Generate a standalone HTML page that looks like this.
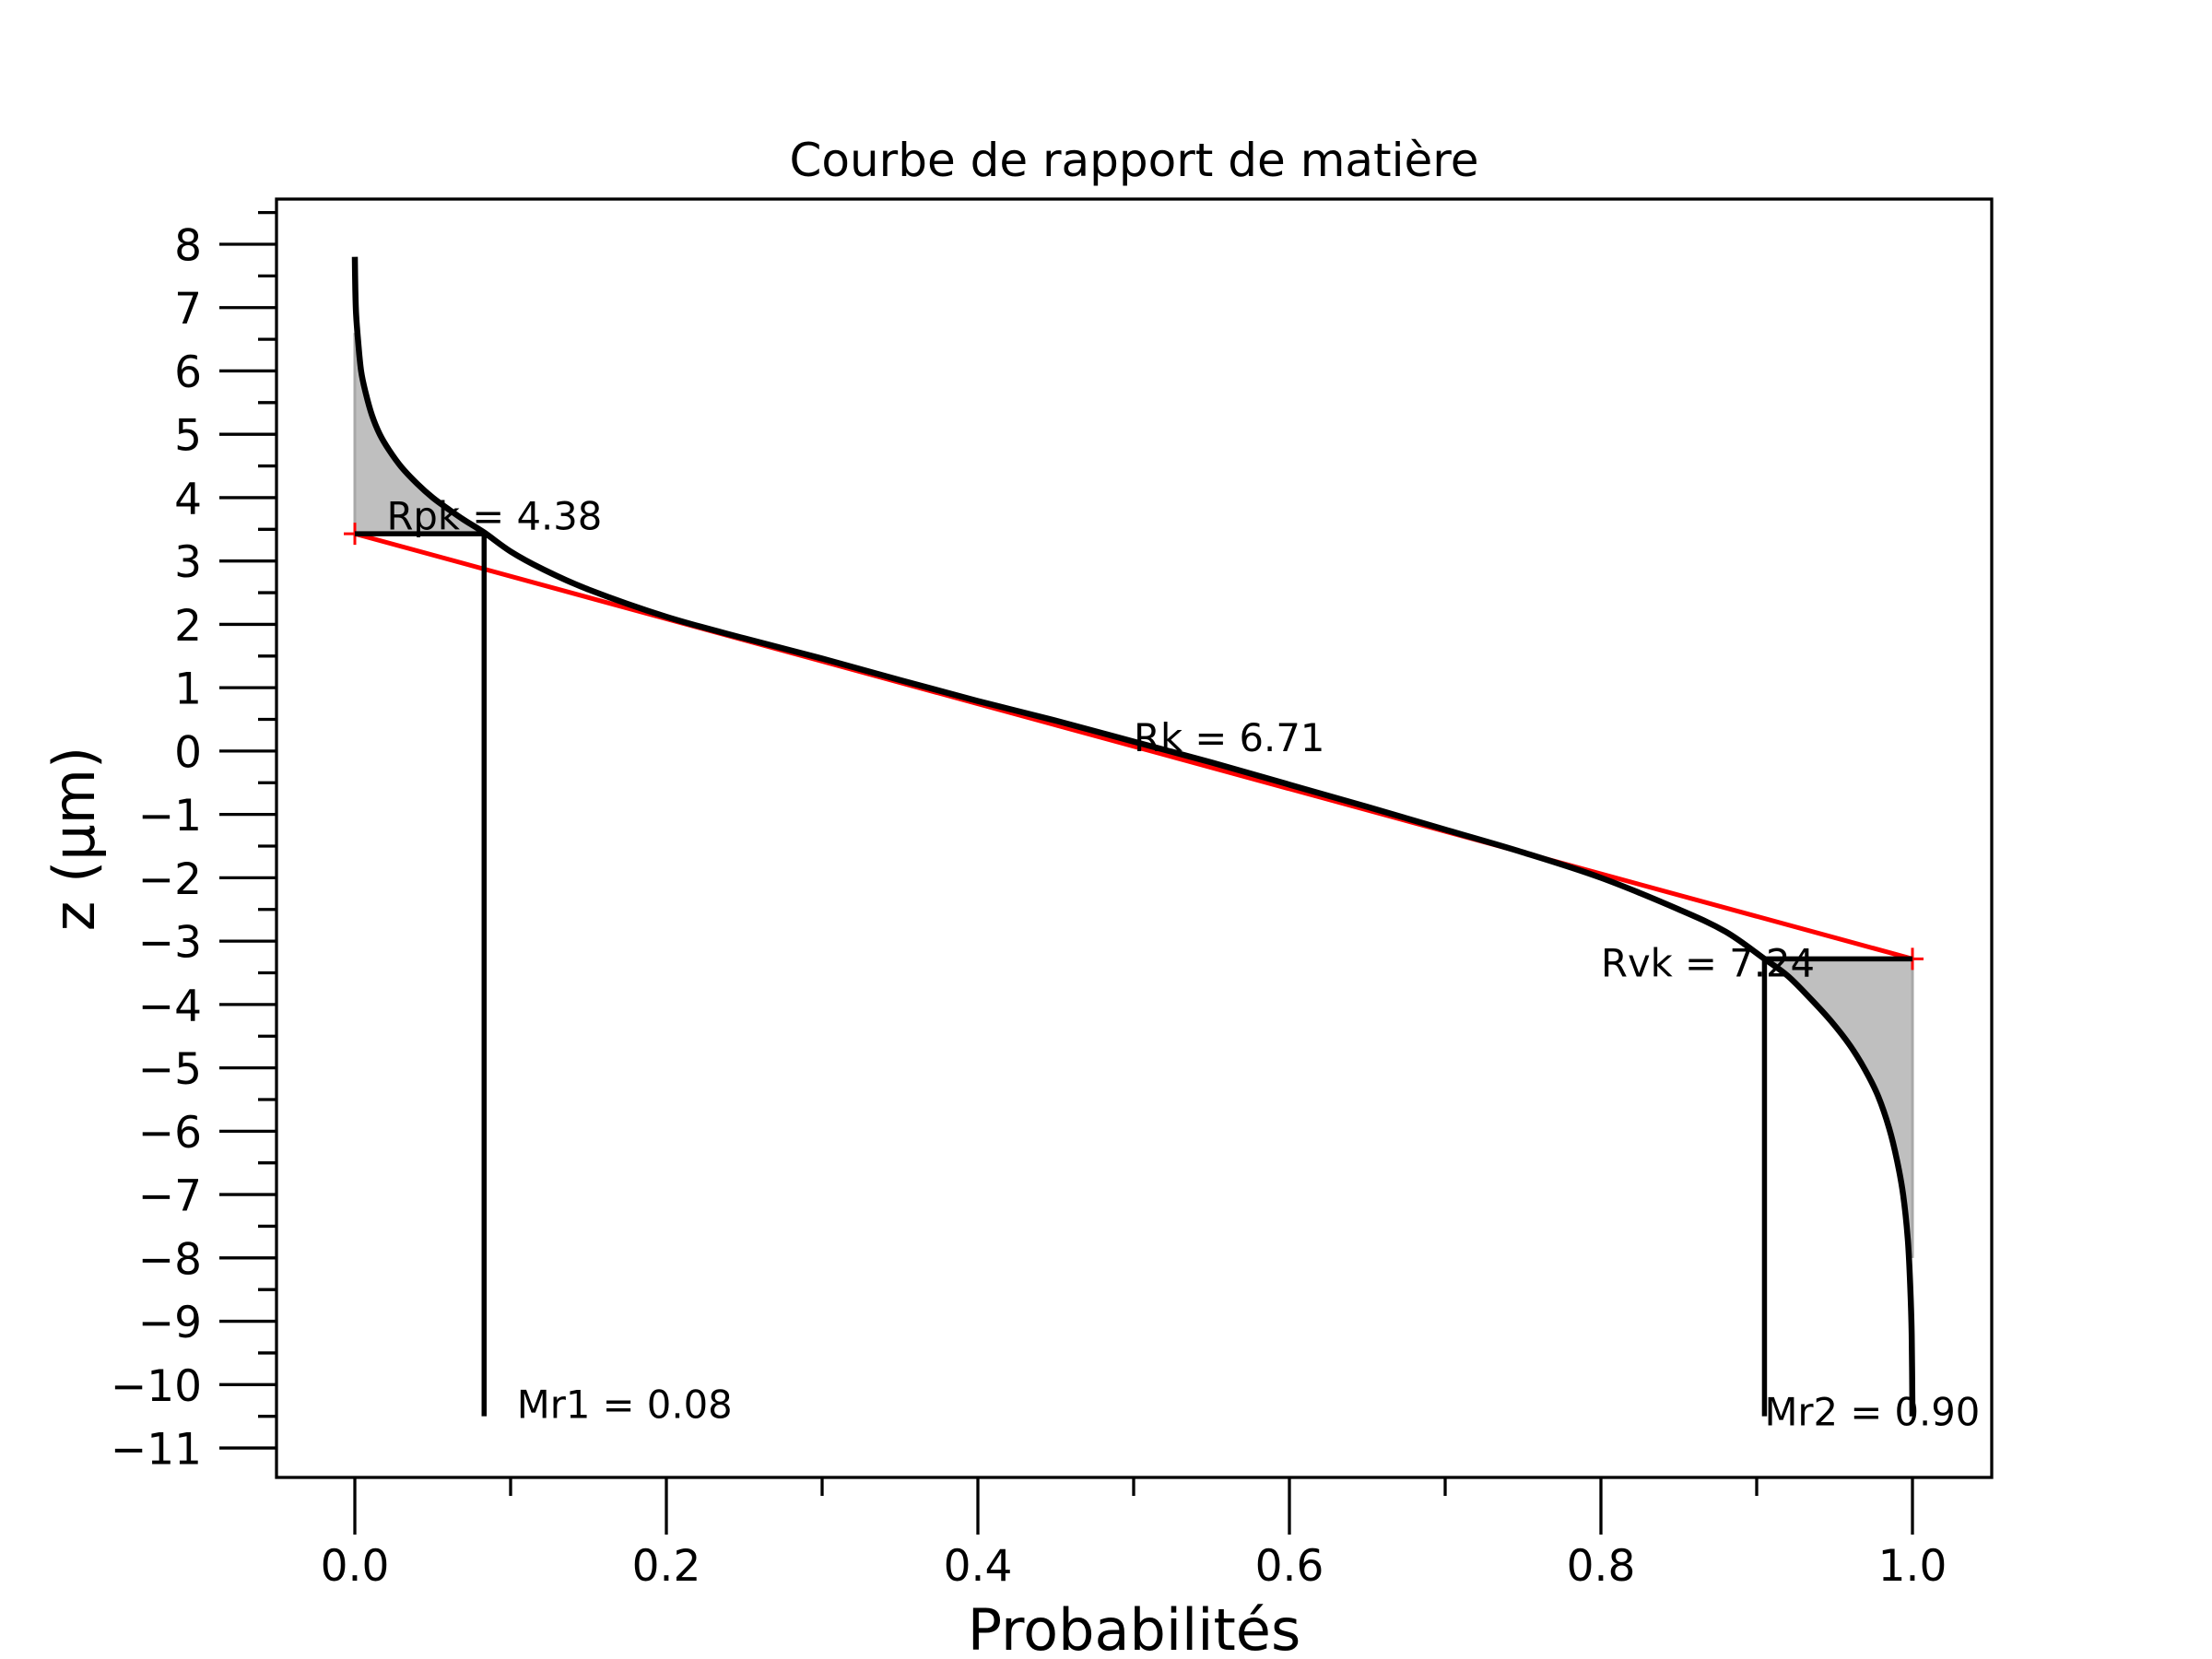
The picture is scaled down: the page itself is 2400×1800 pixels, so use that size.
<!DOCTYPE html>
<html><head><meta charset="utf-8"><style>
html,body{margin:0;padding:0;background:#fff}
svg{display:block;font-family:"DejaVu Sans","Liberation Sans",sans-serif}
</style></head><body>
<svg id="chart" width="2400" height="1800" viewBox="0 0 2400 1800" xmlns="http://www.w3.org/2000/svg">
<rect width="2400" height="1800" fill="#fff"/>
<g id="plot"></g>
</svg>
<script>
const curveP = [0,0.0003,0.0008,0.002,0.004,0.007,0.011,0.016,0.022,0.03,0.04,0.05,0.06,0.07,0.083,0.1,0.12,0.15,0.2,0.25,0.3,0.35,0.4,0.45,0.5,0.55,0.6,0.65,0.7,0.75,0.8,0.85,0.88,0.905,0.92,0.935,0.948,0.96,0.97,0.978,0.985,0.99,0.994,0.997,0.9985,0.9995,1.0];
const curveZ = [7.8,7.3,6.9,6.5,6.0,5.65,5.3,5.0,4.75,4.48,4.22,4.0,3.82,3.65,3.45,3.15,2.88,2.55,2.12,1.78,1.46,1.12,0.79,0.48,0.15,-0.18,-0.53,-0.88,-1.24,-1.6,-2.0,-2.5,-2.85,-3.28,-3.55,-3.92,-4.27,-4.65,-5.05,-5.45,-5.95,-6.45,-7.0,-7.7,-8.4,-9.2,-10.5];
const rkLine = [3.43,-3.28];
const mr = [0.083,0.905];
const yTicks = [8,7,6,5,4,3,2,1,0,-1,-2,-3,-4,-5,-6,-7,-8,-9,-10,-11];
const xTicks = [0,0.2,0.4,0.6,0.8,1.0];
const xTickLabels = ["0.0","0.2","0.4","0.6","0.8","1.0"];
const labels = ["Rpk = 4.38","Rk = 6.71","Rvk = 7.24","Mr1 = 0.08","Mr2 = 0.90"];

const AL=300,AR=2161,AT=216,AB=1603;
const X=p=>385+p*1690;
const Y=z=>814.9-z*68.74;
const NS="http://www.w3.org/2000/svg";
const plotG=document.getElementById('plot');
function mk(tag,attrs,name){const e=document.createElementNS(NS,tag);for(const k in attrs)e.setAttribute(k,attrs[k]);


plotG.appendChild(e);return e;}
function smooth(pts){
 let d=`M${pts[0][0]},${pts[0][1]}`;
 for(let i=0;i<pts.length-1;i++){
  const p0=pts[Math.max(0,i-1)],p1=pts[i],p2=pts[i+1],p3=pts[Math.min(pts.length-1,i+2)];
  const c1=[p1[0]+(p2[0]-p0[0])/6,p1[1]+(p2[1]-p0[1])/6];
  const c2=[p2[0]-(p3[0]-p1[0])/6,p2[1]-(p3[1]-p1[1])/6];
  d+=`C${c1[0]},${c1[1]} ${c2[0]},${c2[1]} ${p2[0]},${p2[1]}`;
 }
 return d;
}

// fills
const topPts=[[X(0),Y(rkLine[0])],[X(0),Y(6.6)]];
for(let i=0;i<curveP.length;i++){if(curveP[i]>=0.002&&curveP[i]<=mr[0])topPts.push([X(curveP[i]),Y(curveZ[i])]);}
topPts.push([X(mr[0]),Y(rkLine[0])]);
mk('polygon',{points:topPts.map(a=>a.join(',')).join(' '),fill:'#bfbfbf',stroke:'none'},'peak-fill');
mk('line',{x1:X(0),y1:Y(rkLine[0]),x2:X(0),y2:Y(6.6),stroke:'#a8a8a8','stroke-width':3},'peak-fill-edge');
const botPts=[[X(mr[1]),Y(rkLine[1])],[X(1),Y(rkLine[1])],[X(1),Y(-8)]];
for(let i=curveP.length-1;i>=0;i--){if(curveP[i]>=mr[1]&&curveP[i]<0.998)botPts.push([X(curveP[i]),Y(curveZ[i])]);}
mk('polygon',{points:botPts.map(a=>a.join(',')).join(' '),fill:'#bfbfbf',stroke:'none'},'valley-fill');
mk('line',{x1:X(1),y1:Y(rkLine[1]),x2:X(1),y2:Y(-8),stroke:'#a8a8a8','stroke-width':3},'valley-fill-edge');

// red line
mk('line',{x1:X(0),y1:Y(rkLine[0]),x2:X(1),y2:Y(rkLine[1]),stroke:'#ff0000','stroke-width':5},'rk-line');
[[0,rkLine[0]],[1,rkLine[1]]].forEach(q=>{
 mk('path',{d:`M${X(q[0])-12},${Y(q[1])}h24M${X(q[0])},${Y(q[1])-12}v24`,stroke:'#ff0000','stroke-width':3,fill:'none'},'rk-marker');
});
// curve
mk('path',{d:smooth(curveP.map((p,i)=>[X(p),Y(curveZ[i])])),fill:'none',stroke:'#000','stroke-width':6.5,'stroke-linejoin':'round'},'abbott-curve');
// mr lines
mk('path',{d:`M${X(0)},${Y(rkLine[0])}H${X(mr[0])}M${X(mr[0])},${Y(rkLine[0])}V${Y(-10.5)}`,stroke:'#000','stroke-width':5.5,fill:'none'},'mr1-lines');
mk('path',{d:`M${X(1)},${Y(rkLine[1])}H${X(mr[1])}M${X(mr[1])},${Y(rkLine[1])}V${Y(-10.5)}`,stroke:'#000','stroke-width':5.5,fill:'none'},'mr2-lines');

// annotations
const pos=[[0.0204,3.5,'rpk-label'],[0.5,0.0,'rk-label'],[0.8,-3.56,'rvk-label'],[0.104,-10.53,'mr1-label'],[0.905,-10.64,'mr2-label']];
pos.forEach((q,i)=>{const t=mk('text',{x:X(q[0]),y:Y(q[1]),'font-size':41.7,fill:'#000'},q[2]);t.textContent=labels[i];});

// axes frame
mk('rect',{x:AL,y:AT,width:AR-AL,height:AB-AT,fill:'none',stroke:'#000','stroke-width':3.3},'axes-frame');
// y ticks
yTicks.forEach(v=>{
 mk('line',{x1:AL-62,y1:Y(v),x2:AL,y2:Y(v),stroke:'#000','stroke-width':3.3},'y-tick');
 const t=mk('text',{x:219,y:Y(v)+17.5,'font-size':47,'text-anchor':'end'},'y-tick-label');
 t.textContent=(v<0?'\u2212'+(-v):String(v));
});
for(let v=-12;v<=8;v++){const m=v+0.5;if(Y(m)>AT&&Y(m)<AB)mk('line',{x1:AL-20,y1:Y(m),x2:AL,y2:Y(m),stroke:'#000','stroke-width':3.3},'y-minor-tick');}
// x ticks
xTicks.forEach((v,i)=>{
 mk('line',{x1:X(v),y1:AB,x2:X(v),y2:AB+62,stroke:'#000','stroke-width':3.3},'x-tick');
 const t=mk('text',{x:X(v),y:1715,'font-size':47,'text-anchor':'middle'},'x-tick-label');
 t.textContent=xTickLabels[i];
});
[0.1,0.3,0.5,0.7,0.9].forEach(v=>mk('line',{x1:X(v),y1:AB,x2:X(v),y2:AB+20,stroke:'#000','stroke-width':3.3},'x-minor-tick'));

const tt=mk('text',{x:1230.5,y:191,'font-size':50,'text-anchor':'middle'},'chart-title');tt.textContent='Courbe de rapport de matière';
const xl=mk('text',{x:1230.5,y:1790,'font-size':62,'text-anchor':'middle'},'x-axis-title');xl.textContent='Probabilités';
const yl=mk('text',{x:0,y:0,'font-size':62,'text-anchor':'middle',transform:'translate(102,910) rotate(-90)'},'y-axis-title');yl.textContent='z (µm)';
</script>
</body></html>
